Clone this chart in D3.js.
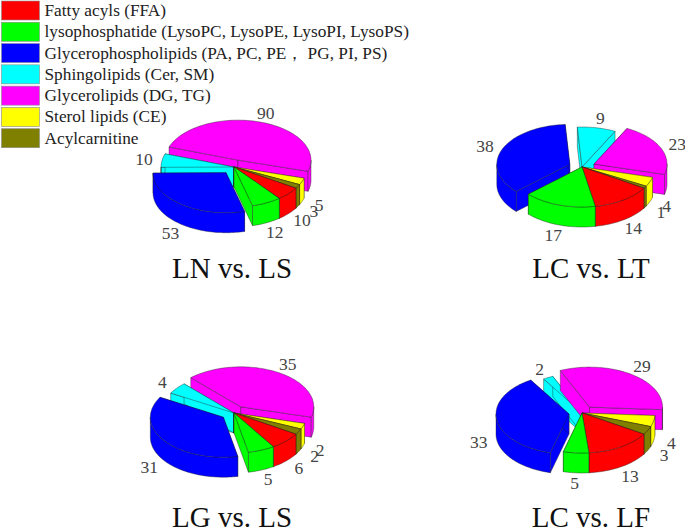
<!DOCTYPE html>
<html lang="en-us">
<head>
  <meta charset="UTF-8">
  <title>Lipid classes, 3D pies</title>
  <script src="https://cdn.jsdelivr.net/npm/d3@7"></script>
  <style>
    html, body { margin: 0; padding: 0; background: #fff; }
    svg { display: block; }
    text { font-family: "Liberation Serif", serif; }
  </style>
</head>
<body>
  <svg id="chart" width="685" height="529"></svg>
  <script>

  var categories = [
    "Fatty acyls (FFA)",
    "lysophosphatide (LysoPC, LysoPE, LysoPI, LysoPS)",
    "Glycerophospholipids (PA, PC, PE， PG, PI, PS)",
    "Sphingolipids (Cer, SM)",
    "Glycerolipids (DG, TG)",
    "Sterol lipids (CE)",
    "Acylcarnitine"
  ];
  var colors = ["#ff0000", "#00ff00", "#0000ff", "#00ffff", "#ff00ff", "#ffff00", "#808000"];

  var titles = ["LN vs. LS", "LC vs. LT", "LG vs. LS", "LC vs. LF"];
  var valuesLNLS = [10, 12, 53, 10, 90, 5, 3];
  var valuesLCLT = [14, 17, 38, 9, 23, 4, 1];
  var valuesLGLS = [6, 5, 31, 4, 35, 2, 2];
  var valuesLCLF = [13, 5, 33, 2, 29, 4, 3];
  var panelValues = [valuesLNLS, valuesLCLT, valuesLGLS, valuesLCLF];
  // glycerophospholipids and glycerolipids are pulled out in all four
  var exploded = [2, 4];

  var svg = d3.select("#chart");

  // pie geometry
  var rx = 73, ry = 40, depth = 20;
  var explode = 0.18;
  var labelR = 1.25;
  var startAngle = 32 * Math.PI / 180;

  // panel positions, picked by column and row
  var colX = d3.scalePoint().domain([0, 1]).range([234, 582]);
  var rowY = d3.scalePoint().domain([0, 1]).range([167, 413]);
  var titleX = d3.scalePoint().domain([0, 1]).range([232, 591]);
  var titleY = d3.scalePoint().domain([0, 1]).range([278, 527]);

  // unit circle -> screen, relative to the pie centre
  var sx = d3.scaleLinear().domain([-1, 1]).range([-rx, rx]);
  var sy = d3.scaleLinear().domain([-1, 1]).range([-ry, ry]);

  var pie = d3.pie().sort(null).startAngle(startAngle).endAngle(startAngle + 2 * Math.PI);
  var poly = d3.line().curve(d3.curveLinearClosed);

  function pt(a, h) {
    return [sx(Math.cos(a)), sy(Math.sin(a)) + (h || 0)];
  }

  function arcPoints(a0, a1, h) {
    var n = Math.max(2, Math.ceil((a1 - a0) / 0.03));
    return d3.range(n + 1).map(function(i) {
      return pt(a0 + (a1 - a0) * i / n, h);
    });
  }

  function drawSlice(g, s) {
    var a0 = s.startAngle, a1 = s.endAngle;
    var apex = [0, 0], apexB = [0, depth];
    var fill = colors[s.index];

    function face(points) {
      g.append("path")
        .attr("d", poly(points))
        .attr("fill", fill)
        .attr("stroke", "#222")
        .attr("stroke-width", 0.4)
        .attr("stroke-linejoin", "round");
    }

    // radial walls
    face([apex, pt(a0), pt(a0, depth), apexB]);
    face([apex, pt(a1), pt(a1, depth), apexB]);

    // outer rim, only where it faces the viewer
    [[0, Math.PI], [2 * Math.PI, 3 * Math.PI]].forEach(function(r) {
      var b0 = Math.max(a0, r[0]), b1 = Math.min(a1, r[1]);
      if (b1 > b0) {
        face(arcPoints(b0, b1, 0).concat(arcPoints(b0, b1, depth).reverse()));
      }
    });

    // top
    face([apex].concat(arcPoints(a0, a1, 0)));
  }

  panelValues.forEach(function(values, p) {
    var col = p % 2, row = Math.floor(p / 2);
    var cx = colX(col), cy = rowY(row);
    var arcs = pie(values);

    arcs.forEach(function(s) {
      s.mid = (s.startAngle + s.endAngle) / 2;
      s.off = exploded.indexOf(s.index) >= 0 ? explode : 0;
    });

    // back to front
    var order = arcs.slice().sort(function(a, b) {
      return Math.sin(a.mid) - Math.sin(b.mid);
    });

    var panel = svg.append("g").attr("transform", "translate(" + cx + "," + cy + ")");

    order.forEach(function(s) {
      var g = panel.append("g")
        .attr("transform", "translate(" + sx(s.off * Math.cos(s.mid)) + "," + sy(s.off * Math.sin(s.mid)) + ")");
      drawSlice(g, s);
    });

    arcs.forEach(function(s) {
      var c = Math.cos(s.mid), n = Math.sin(s.mid);
      panel.append("text")
        .attr("x", sx((s.off + labelR) * c))
        .attr("y", sy((s.off + labelR) * n) + (n > 0 ? depth : 0))
        .attr("dy", "0.35em")
        .attr("text-anchor", "middle")
        .attr("font-size", 17.5)
        .attr("fill", "#444")
        .text(s.value);
    });

    svg.append("text")
      .attr("x", titleX(col))
      .attr("y", titleY(row))
      .attr("text-anchor", "middle")
      .attr("font-size", 29)
      .attr("fill", "#111")
      .text(titles[p]);
  });

  // legend
  var legendY = d3.scaleBand().domain(d3.range(categories.length)).range([0, 149]);
  var legend = svg.append("g").selectAll("g").data(categories).enter().append("g")
    .attr("transform", function(d, i) { return "translate(1," + legendY(i) + ")"; });

  legend.append("rect")
    .attr("x", 0.5).attr("y", 1)
    .attr("width", 38).attr("height", 19)
    .attr("fill", function(d, i) { return colors[i]; })
    .attr("stroke", "#8a8a8a")
    .attr("stroke-width", 0.6);

  legend.append("text")
    .attr("x", 43.5)
    .attr("y", 16)
    .attr("font-size", 17.3)
    .attr("fill", "#222")
    .text(function(d) { return d; });
  </script>
</body>
</html>
